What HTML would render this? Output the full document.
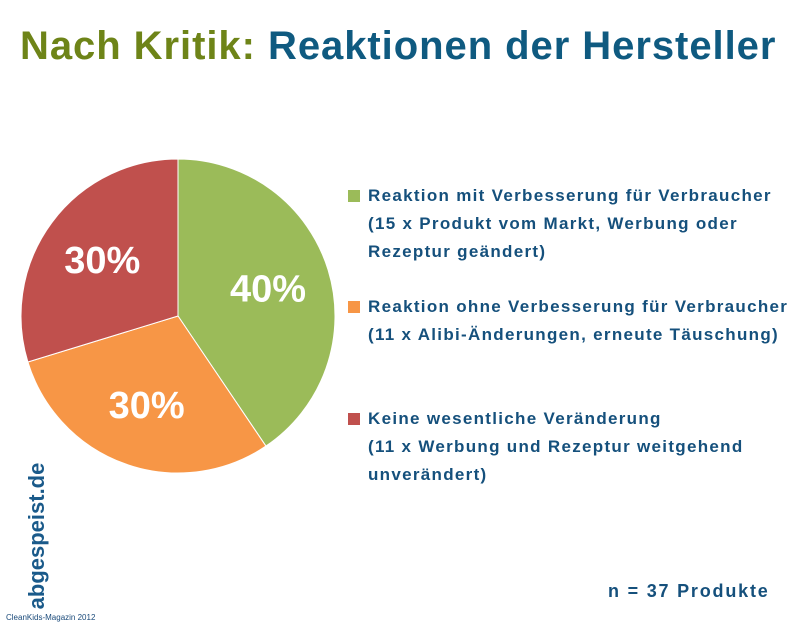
<!DOCTYPE html>
<html><head><meta charset="utf-8"><style>
body{margin:0;width:800px;height:627px;background:#fff;overflow:hidden;position:relative;font-family:"Liberation Sans",sans-serif}
.t{position:absolute;white-space:nowrap}
.leg{position:absolute;left:348px;color:#15507c;font-weight:bold;font-size:17px;line-height:28px;letter-spacing:1.3px}
.sq{position:absolute;left:0;top:8px;width:12px;height:12px}
.leg div.txt{margin-left:20px}
</style></head><body>
<div class="t" style="left:20px;top:24px;font-size:40px;font-weight:bold;letter-spacing:0.95px"><span style="color:#6e8418">Nach Kritik:</span> <span style="color:#0f5a80">Reaktionen der Hersteller</span></div>
<svg id="pie" width="800" height="627" style="position:absolute;left:0;top:0"></svg>
<div class="leg" style="top:182px"><span class="sq" style="background:#9bbb59"></span><div class="txt">Reaktion mit Verbesserung für Verbraucher<br>(15 x Produkt vom Markt, Werbung oder<br>Rezeptur geändert)</div></div>
<div class="leg" style="top:293px"><span class="sq" style="background:#f79646"></span><div class="txt">Reaktion ohne Verbesserung für Verbraucher<br>(11 x Alibi-Änderungen, erneute Täuschung)</div></div>
<div class="leg" style="top:405px"><span class="sq" style="background:#c0504d"></span><div class="txt">Keine wesentliche Veränderung<br>(11 x Werbung und Rezeptur weitgehend<br>unverändert)</div></div>
<div class="t" style="left:608px;top:581px;font-size:18px;font-weight:bold;color:#15507c;letter-spacing:1.8px">n = 37 Produkte</div>
<div class="t" style="left:37px;top:536px;transform:translate(-50%,-50%) rotate(-90deg);font-size:22px;font-weight:bold;color:#1a5a8a">abgespeist.de</div>
<div class="t" style="left:6px;top:613px;font-size:8px;color:#1a4a7a">CleanKids-Magazin 2012</div>
<script>
const categories=["Reaktion mit Verbesserung","Reaktion ohne Verbesserung","Keine wesentliche Veränderung"];
const counts=[15,11,11];
const labels=["40%","30%","30%"];
const colors=["#9bbb59","#f79646","#c0504d"];
const svg=document.getElementById('pie');
const cx=178,cy=316,r=157;
const total=counts.reduce((a,b)=>a+b,0);
let a0=0;
const NS="http://www.w3.org/2000/svg";
function pt(a,rr){return [cx+rr*Math.sin(a),cy-rr*Math.cos(a)];}
counts.forEach((v,i)=>{
  const a1=a0+v/total*2*Math.PI;
  const p0=pt(a0,r),p1=pt(a1,r);
  const path=document.createElementNS(NS,'path');
  path.setAttribute('d',`M${cx},${cy}L${p0[0]},${p0[1]}A${r},${r} 0 ${a1-a0>Math.PI?1:0} 1 ${p1[0]},${p1[1]}Z`);
  path.setAttribute('fill',colors[i]);
  path.setAttribute('stroke','#fff');
  path.setAttribute('stroke-width','1');
  
  
  svg.appendChild(path);
  const m=(a0+a1)/2,lp=pt(m,r*0.6);
  const t=document.createElementNS(NS,'text');
  t.setAttribute('x',lp[0]);t.setAttribute('y',lp[1]+13);
  t.setAttribute('text-anchor','middle');
  t.setAttribute('font-family','Liberation Sans, sans-serif');
  t.setAttribute('font-weight','bold');t.setAttribute('font-size','38');
  t.setAttribute('fill','#fff');
  t.textContent=labels[i];
  
  
  svg.appendChild(t);
  a0=a1;
});
</script>
</body></html>
